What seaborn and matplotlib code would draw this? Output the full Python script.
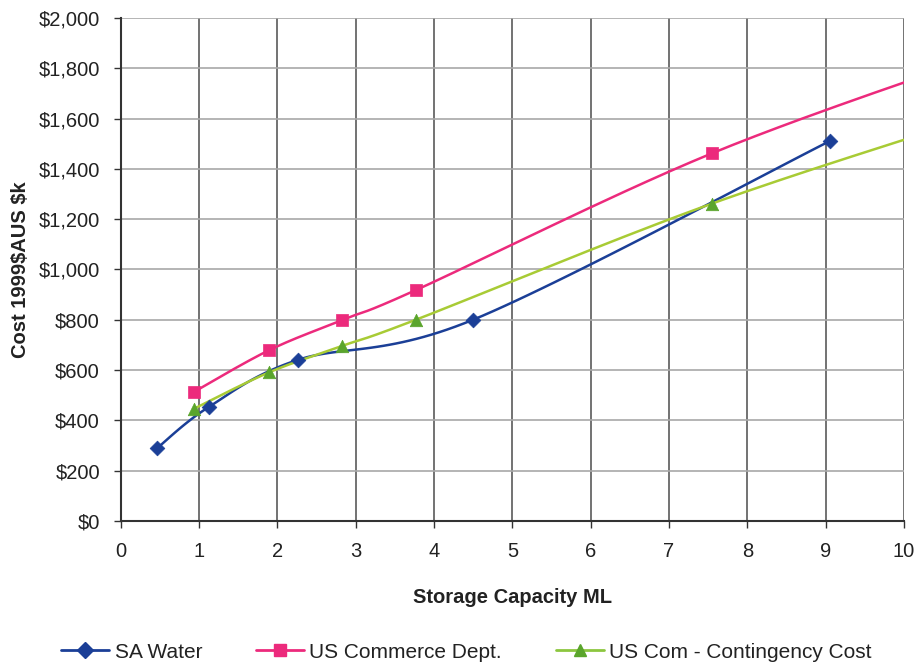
import numpy as np
import pandas as pd
import matplotlib
matplotlib.use("Agg")
import matplotlib.pyplot as plt
from matplotlib.lines import Line2D
from matplotlib.ticker import FuncFormatter
import seaborn as sns

# ---- data ----
sa_x = [0.46, 1.12, 2.26, 4.50, 9.05]
sa_y = [288, 452, 640, 800, 1510]

usc_x = [0.93, 1.89, 2.82, 3.77, 7.55, 11.36]
usc_y = [512, 678, 798, 918, 1462, 1890]

usk_x = [0.93, 1.89, 2.82, 3.77, 7.55, 11.36]
usk_y = [445, 590, 695, 800, 1262, 1650]

series_names = ["SA Water", "US Commerce Dept.", "US Com - Contingency Cost"]
x_ticks = list(range(0, 11))
y_ticks = list(range(0, 2001, 200))

sns.set_theme(style="white")
plt.rcParams["font.family"] = ["Liberation Sans", "DejaVu Sans"]
plt.rcParams["text.parse_math"] = False

fig = plt.figure(figsize=(9.15, 6.66), dpi=100)
ax = fig.add_axes([0.132, 0.218, 0.856, 0.755])


def smooth(xs, ys, n=30):
    """Excel-style smoothed line through the data points (Bezier, tension 1/6)."""
    P = np.column_stack([xs, ys]).astype(float)
    out = [P[0]]
    m = len(P)
    for i in range(m - 1):
        p0 = P[i - 1] if i > 0 else P[i]
        p1, p2 = P[i], P[i + 1]
        p3 = P[i + 2] if i + 2 < m else P[i + 1]
        c1 = p1 + (p2 - p0) / 6.0
        c2 = p2 - (p3 - p1) / 6.0
        t = np.linspace(0, 1, n)[1:, None]
        seg = ((1 - t) ** 3) * p1 + 3 * ((1 - t) ** 2) * t * c1 + 3 * (1 - t) * t ** 2 * c2 + t ** 3 * p2
        out.extend(seg)
    out = np.array(out)
    return out[:, 0], out[:, 1]


navy = "#1b3f97"
pink = "#ec2a7c"
green_line = "#a8cb35"
green_mk = "#5aa52c"

specs = [
    (sa_x, sa_y, navy, navy, "D", 7.5),
    (usc_x, usc_y, pink, pink, "s", 9),
    (usk_x, usk_y, green_line, green_mk, "^", 9),
]

for (xs, ys, lc, mc, mk, ms), name in zip(specs, series_names):
    sx, sy = smooth(xs, ys)
    ax.plot(sx, sy, color=lc, lw=1.8, zorder=3)
    df = pd.DataFrame({"x": xs, "y": ys})
    sns.scatterplot(data=df, x="x", y="y", ax=ax, marker=mk, s=ms ** 2,
                    color=mc, edgecolor=mc, linewidth=0.5, zorder=4, legend=False)

ax.set_xlim(0, 10)
ax.set_ylim(0, 2000)
ax.set_xticks(x_ticks)
ax.set_yticks(y_ticks)
ax.yaxis.set_major_formatter(FuncFormatter(lambda v, p: f"${int(v):,}"))

ax.xaxis.grid(True, color="#5a5a5a", lw=1.2)
ax.yaxis.grid(True, color="#a8a8a8", lw=1.2)
ax.set_axisbelow(True)
for s in ["top", "right"]:
    ax.spines[s].set_visible(False)
for s in ["left", "bottom"]:
    ax.spines[s].set_color("#333333")
    ax.spines[s].set_linewidth(1.5)

ax.tick_params(axis="both", which="major", length=5, width=1, color="#333333",
               labelsize=14.5, labelcolor="#222222", direction="out", bottom=True, left=True)
ax.tick_params(axis="x", pad=10)
ax.tick_params(axis="y", pad=10)

ax.set_xlabel("Storage Capacity ML", fontsize=14.5, fontweight="bold", color="#222222", labelpad=20)
ax.set_ylabel("Cost 1999$AUS $k", fontsize=14.5, fontweight="bold", color="#222222", labelpad=6)

handles = [
    Line2D([], [], color=navy, lw=2, marker="D", ms=8, markerfacecolor=navy, markeredgecolor=navy),
    Line2D([], [], color=pink, lw=2, marker="s", ms=9, markerfacecolor=pink, markeredgecolor=pink),
    Line2D([], [], color="#8cc63f", lw=2, marker="^", ms=9, markerfacecolor=green_mk, markeredgecolor=green_mk),
]
fig.legend(handles, series_names, loc="center", bbox_to_anchor=(0.51, 0.021), ncol=3,
           frameon=False, fontsize=15, handlelength=2.3, columnspacing=2.6, handletextpad=0.25,
           labelcolor="#222222")

fig.savefig("out.png", dpi=100, facecolor="white")
